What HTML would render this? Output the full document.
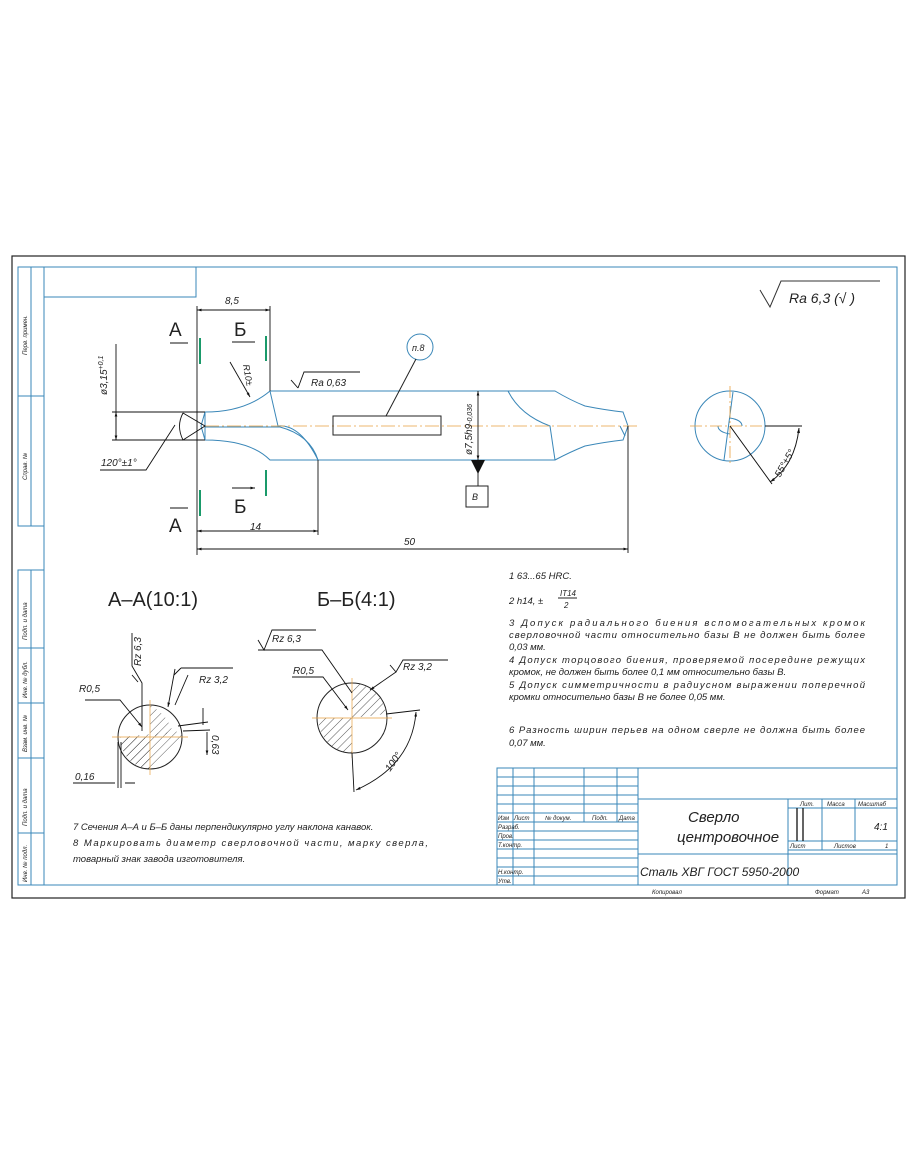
<!DOCTYPE html>
<html><head><meta charset="utf-8"><style>
html,body{margin:0;padding:0;background:#fff;}
svg{display:block;}
text{font-family:"Liberation Sans","DejaVu Sans",sans-serif;font-style:italic;fill:#222;}
.u{font-style:normal;}
</style></head><body>
<svg width="910" height="1155" viewBox="0 0 910 1155" xmlns="http://www.w3.org/2000/svg">
<defs>
<pattern id="h" width="6" height="6" patternUnits="userSpaceOnUse" patternTransform="rotate(45)"><line x1="0" y1="0" x2="0" y2="6" stroke="#333" stroke-width="0.8"/></pattern>
<marker id="ar" viewBox="0 0 10 10" refX="10" refY="5" markerWidth="7" markerHeight="5" orient="auto-start-reverse"><path d="M0,2 L10,5 L0,8z" fill="#111"/></marker>
</defs>
<!-- outer sheet -->
<rect x="12" y="256" width="893" height="642" fill="none" stroke="#222" stroke-width="1.2"/>
<!-- blue frame -->
<g stroke="#3a87b8" fill="none" stroke-width="1">
<rect x="44" y="267" width="853" height="618"/>
<rect x="44" y="267" width="152" height="30"/>
<path d="M18,267 H44 V526 H18Z M31,267 V526 M18,396 H44"/>
<path d="M18,570 H44 V885 H18Z M31,570 V885 M18,648 H44 M18,703 H44 M18,758 H44 M18,833 H44"/>
<!-- title block -->
<path d="M497,885 V768 H897 M513,768 V885 M534,768 V885 M584,768 V822 M617,768 V822 M638,768 V885"/>
<path d="M497,777 H638 M497,786 H638 M497,795 H638 M497,804 H638 M497,813 H638 M497,822 H638 M497,831 H638 M497,840 H638 M497,849 H638 M497,858 H638 M497,867 H638 M497,876 H638"/>
<path d="M638,799 H897 M638,854 H897 M788,799 V885 M788,808 H897 M822,799 V841 M855,799 V841 M788,841 H897 M788,850 H897 M822,841 V850"/>
</g>
<path d="M797,808 V841 M803,808 V841" stroke="#222" stroke-width="1.4"/>
<!-- frame labels -->
<g font-size="6">
<text transform="translate(27,355) rotate(-90)">Перв. примен.</text>
<text transform="translate(27,480) rotate(-90)">Справ. №</text>
<text transform="translate(27,640) rotate(-90)">Подп. и дата</text>
<text transform="translate(27,698) rotate(-90)">Инв. № дубл.</text>
<text transform="translate(27,752) rotate(-90)">Взам. инв. №</text>
<text transform="translate(27,826) rotate(-90)">Подп. и дата</text>
<text transform="translate(27,882) rotate(-90)">Инв. № подл.</text>
</g>
<!-- title block text -->
<g font-size="6">
<text x="498" y="820">Изм</text><text x="514" y="820">Лист</text><text x="545" y="820">№ докум.</text><text x="592" y="820">Подп.</text><text x="619" y="820">Дата</text>
<text x="498" y="829">Разраб.</text><text x="498" y="838">Пров.</text><text x="498" y="847">Т.контр.</text>
<text x="498" y="874">Н.контр.</text><text x="498" y="883">Утв.</text>
<text x="800" y="806">Лит.</text><text x="827" y="806">Масса</text><text x="858" y="806">Масштаб</text>
<text x="790" y="848">Лист</text><text x="834" y="848">Листов</text><text x="885" y="848">1</text>
<text x="652" y="894">Копировал</text><text x="815" y="894">Формат</text><text x="862" y="894">A3</text>
</g>
<text x="874" y="830" font-size="10">4:1</text>
<text x="688" y="822" font-size="15">Сверло</text>
<text x="677" y="842" font-size="15">центровочное</text>
<text x="640" y="876" font-size="12">Сталь ХВГ ГОСТ 5950-2000</text>
<!-- roughness top right -->
<path d="M760,290 L770,307 L781,281 H880" fill="none" stroke="#333"/>
<text x="789" y="303" font-size="14">Ra 6,3 (√ )</text>
<!-- main drill -->
<g fill="none" stroke="#3a87b8" stroke-width="1">
<path d="M270,391 H555 Q570,400 585,406 Q605,410 623,412 L628,426 L623,440 Q605,442 585,446 Q570,452 555,460 H318 Q310,435 280,427 H205"/>
<path d="M205,412 Q245,412 270,391 L278,426 Q300,424 318,460"/>
<path d="M205,412 V440 Q250,440 270,460 H318"/>
<path d="M508,391 Q520,415 550,426 L555,460 M205,412 L201,426 L205,440 M620,426 L625,436"/>
</g>
<line x1="205" y1="426" x2="640" y2="426" stroke="#e8a040" stroke-width="0.8" stroke-dasharray="14,3,2,3"/>
<rect x="333" y="416" width="108" height="19" fill="none" stroke="#222"/>
<circle cx="420" cy="347" r="13" fill="none" stroke="#3a87b8"/>
<text x="412" y="351" font-size="9">п.8</text>
<path d="M416,359 L386,416" stroke="#222" fill="none"/>
<!-- dims -->
<g stroke="#111" fill="none" stroke-width="0.9">
<path d="M197,306 V555 M270,306 V391 M318,460 V535 M628,426 V553"/>
<path d="M197,310 H270" marker-start="url(#ar)" marker-end="url(#ar)"/>
<path d="M197,531 H318" marker-start="url(#ar)" marker-end="url(#ar)"/>
<path d="M197,549 H628" marker-start="url(#ar)" marker-end="url(#ar)"/>
<path d="M112,412 H205 M112,440 H205 M116,344 V440" />
<path d="M116,412 V440" marker-start="url(#ar)" marker-end="url(#ar)"/>
<path d="M100,470 H146 L175,425"/>
<path d="M183,413 L205,426 L183,440 Q176,426 183,413" />
<path d="M478,391 V460" marker-start="url(#ar)" marker-end="url(#ar)"/>
<path d="M478,460 V486"/>
<path d="M298,388 L291,380 M298,388 L304,372 H360"/>
<path d="M230,362 L250,397" marker-end="url(#ar)"/>
<!-- section markers -->
<path d="M170,343 H188 M170,508 H188 M232,342 H255 M232,488 H255" marker-end="url(#ar)"/>
</g>
<path d="M471,460 L485,460 L478,474Z" fill="#111"/>
<rect x="466" y="486" width="22" height="21" fill="none" stroke="#222"/>
<text x="472" y="500" font-size="9">В</text>
<g stroke="#1a9a6a" stroke-width="2"><path d="M200,338 V364 M266,336 V361 M266,470 V496 M200,490 V516"/></g>
<g font-size="19" class="u"><text x="169" y="336" class="u">А</text><text x="169" y="532" class="u">А</text><text x="234" y="336" class="u">Б</text><text x="234" y="513" class="u">Б</text></g>
<g font-size="10">
<text x="225" y="304">8,5</text><text x="250" y="530">14</text><text x="404" y="545">50</text>
<text x="101" y="466">120°±1°</text>
<text x="311" y="386">Ra 0,63</text>
<text transform="translate(107,395) rotate(-90)">ø3,15<tspan font-size="7" dy="-4">+0,1</tspan></text>
<text transform="translate(472,455) rotate(-90)">ø7,5h9<tspan font-size="7">-0,036</tspan></text>
<text transform="translate(243,365) rotate(80)" font-size="9">R10±</text>
</g>
<!-- end view -->
<circle cx="730" cy="426" r="35" fill="none" stroke="#3a87b8"/>
<path d="M733,392 L724,460 M730,418 Q742,420 742,426 M730,434 Q718,432 718,426" fill="none" stroke="#3a87b8"/>
<path d="M690,426 H770 M730,386 V465" stroke="#e8a040" stroke-width="0.8" stroke-dasharray="12,3,2,3"/>
<path d="M765,426 H802 M730,426 L772,484" stroke="#111" fill="none"/>
<path d="M799,428 Q795,465 770,482" stroke="#111" fill="none" marker-start="url(#ar)" marker-end="url(#ar)"/>
<text transform="translate(780,478) rotate(-60)" font-size="10">55°±5°</text>
<!-- sections -->
<text x="108" y="606" font-size="20" class="u">А–А(10:1)</text>
<text x="317" y="606" font-size="20" class="u">Б–Б(4:1)</text>
<!-- A-A -->
<path d="M150,737 L120,737 A32,32 0 0 0 150,769 Z" fill="url(#h)"/>
<path d="M150,737 L173,733 Q168,715 150,705 Z" fill="url(#h)"/>
<path d="M120,737 L183,731 Q178,748 150,769 A32,32 0 0 1 120,737Z" fill="url(#h)"/>
<circle cx="150" cy="737" r="32" fill="none" stroke="#222"/>
<path d="M112,737 H188 M150,700 V775" stroke="#e8a040" stroke-width="0.7"/>
<g stroke="#111" fill="none" stroke-width="0.9">
<path d="M85,700 H120 L142,727" marker-end="url(#ar)"/>
<path d="M132,633 V666 L142,683 V731"/><path d="M138,682 L132,675"/>
<path d="M181,668 L233,668 M181,668 L174,675 M188,675 L175,705" />
<path d="M175,669 L168,707" marker-end="url(#ar)"/>
<path d="M178,726 L208,722 M183,731 L210,730"/>
<path d="M203,708 V725 M207,732 V755" marker-end="url(#ar)"/>
<path d="M118,742 V788 M121,742 V788 M73,783 H115 M125,783 H135"/>
</g>
<text x="79" y="692" font-size="10">R0,5</text>
<text x="199" y="683" font-size="10">Rz 3,2</text>
<text transform="translate(141,666) rotate(-90)" font-size="10">Rz 6,3</text>
<text transform="translate(212,735) rotate(90)" font-size="10">0,63</text>
<text x="75" y="780" font-size="10">0,16</text>
<!-- Б-Б -->
<path d="M352,718 L318,718 A35,35 0 0 0 352,753 Z M352,718 L386,714 A35,35 0 0 0 352,683 Z" fill="url(#h)"/>
<circle cx="352" cy="718" r="35" fill="none" stroke="#222"/>
<path d="M312,718 H392 M352,678 V758" stroke="#e8a040" stroke-width="0.7"/>
<g stroke="#111" fill="none" stroke-width="0.9">
<path d="M258,640 L264,650 L272,630 H316 M258,650 H322 L352,693" />
<path d="M292,677 H323 L348,710" marker-end="url(#ar)"/>
<path d="M390,665 L396,672 L403,660 H448 M396,672 L370,690" marker-end="url(#ar)"/>
<path d="M352,753 L354,792 M386,714 L420,710"/>
<path d="M416,712 Q412,765 356,790" marker-start="url(#ar)" marker-end="url(#ar)"/>
</g>
<text x="272" y="642" font-size="10">Rz 6,3</text>
<text x="293" y="674" font-size="10">R0,5</text>
<text x="403" y="670" font-size="10">Rz 3,2</text>
<text transform="translate(390,772) rotate(-55)" font-size="10">100°</text>
<!-- notes -->
<g font-size="9.5">
<text x="509" y="579">1 63...65 HRC.</text>
<text x="509" y="604">2 h14, ±</text><text x="560" y="596" font-size="8">IT14</text><line x1="558" y1="598" x2="577" y2="598" stroke="#222"/><text x="564" y="608" font-size="8">2</text>
<text x="509" y="626" textLength="356" lengthAdjust="spacing">3 Допуск радиального биения вспомогательных кромок</text>
<text x="509" y="638" textLength="356" lengthAdjust="spacing">сверловочной части относительно базы В не должен быть более</text>
<text x="509" y="650">0,03 мм.</text>
<text x="509" y="663" textLength="356" lengthAdjust="spacing">4 Допуск торцового биения, проверяемой посередине режущих</text>
<text x="509" y="675">кромок, не должен быть более 0,1 мм относительно базы В.</text>
<text x="509" y="688" textLength="356" lengthAdjust="spacing">5 Допуск симметричности в радиусном выражении поперечной</text>
<text x="509" y="700">кромки относительно базы В не более 0,05 мм.</text>
<text x="509" y="733" textLength="356" lengthAdjust="spacing" y="733">6 Разность ширин перьев на одном сверле не должна быть более</text>
<text x="509" y="746">0,07 мм.</text>
<text x="73" y="830">7 Сечения А–А и Б–Б даны перпендикулярно углу наклона канавок.</text>
<text x="73" y="846" textLength="355" lengthAdjust="spacing">8 Маркировать диаметр сверловочной части, марку сверла,</text>
<text x="73" y="862">товарный знак завода изготовителя.</text>
</g>
</svg>
</body></html>
